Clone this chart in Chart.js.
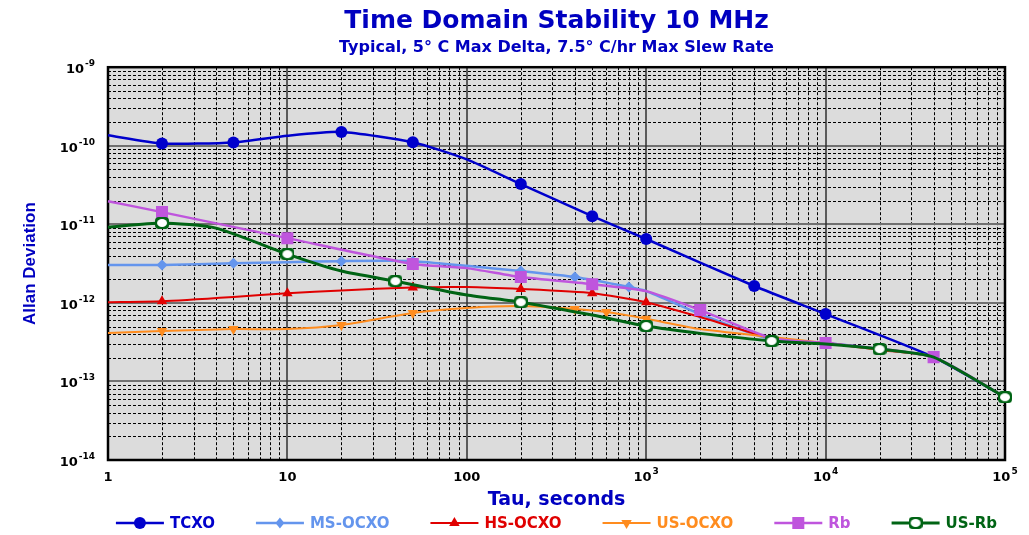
<!DOCTYPE html>
<html>
<head>
<meta charset="utf-8">
<title>Time Domain Stability 10 MHz</title>
<script src="https://cdn.jsdelivr.net/npm/chart.js@4.4.1/dist/chart.umd.min.js"></script>
<style>
  html, body { margin: 0; padding: 0; background: #fff; }
  #wrap { width: 1029px; height: 535px; }
</style>
</head>
<body>
<div id="wrap"><canvas id="stabilityChart" width="1029" height="535"></canvas></div>
<script>
// Allan deviation vs tau (seconds)
const tcxoTau = [1, 2, 5, 10, 20, 50, 100, 200, 500, 1000, 4000, 10000, 40000, 100000];
const tcxoVal = [1.36e-10, 1.07e-10, 1.10e-10, 1.34e-10, 1.50e-10, 1.11e-10, 6.7e-11, 3.25e-11, 1.27e-11, 6.5e-12, 1.64e-12, 7.2e-13, 2.04e-13, 6.3e-14];
const tcxoMarks = [2, 5, 20, 50, 200, 500, 1000, 4000, 10000];

const msTau = [1, 2, 5, 10, 20, 50, 100, 200, 400, 800, 1000, 2000, 5000, 10000, 20000, 40000, 100000];
const msVal = [3.03e-12, 3.03e-12, 3.2e-12, 3.3e-12, 3.4e-12, 3.4e-12, 2.96e-12, 2.54e-12, 2.13e-12, 1.59e-12, 1.41e-12, 7.2e-13, 3.4e-13, 3.08e-13, 2.58e-13, 2.04e-13, 6.3e-14];
const msMarks = [2, 5, 20, 50, 200, 400, 800, 2000];

const hsTau = [1, 2, 5, 10, 20, 50, 100, 200, 500, 1000, 2000, 5000, 10000, 20000, 40000, 100000];
const hsVal = [1.02e-12, 1.05e-12, 1.19e-12, 1.33e-12, 1.44e-12, 1.57e-12, 1.59e-12, 1.5e-12, 1.33e-12, 1.02e-12, 6.6e-13, 3.56e-13, 3.08e-13, 2.52e-13, 2.04e-13, 6.3e-14];
const hsMarks = [2, 10, 50, 200, 500, 1000, 10000];

const usTau = [1, 2, 5, 10, 20, 50, 100, 200, 400, 600, 1000, 2000, 5000, 10000, 20000, 40000, 100000];
const usVal = [4.13e-13, 4.38e-13, 4.64e-13, 4.64e-13, 5.22e-13, 7.42e-13, 8.6e-13, 9.1e-13, 8.34e-13, 7.63e-13, 6.28e-13, 4.64e-13, 3.67e-13, 3.08e-13, 2.55e-13, 2.04e-13, 6.3e-14];
const usMarks = [2, 5, 20, 50, 400, 600, 1000];

const rbTau = [1, 2, 10, 50, 100, 200, 500, 1000, 2000, 5000, 10000, 40000, 100000];
const rbVal = [1.97e-11, 1.43e-11, 6.67e-12, 3.12e-12, 2.77e-12, 2.13e-12, 1.73e-12, 1.41e-12, 8.1e-13, 3.56e-13, 3.08e-13, 2.04e-13, 6.3e-14];
const rbMarks = [2, 10, 50, 200, 500, 2000, 10000, 40000];

const usRbTau = [1, 2, 4, 10, 20, 40, 100, 200, 500, 1000, 2000, 5000, 10000, 20000, 40000, 100000];
const usRbVal = [9.2e-12, 1.04e-11, 8.95e-12, 4.18e-12, 2.54e-12, 1.89e-12, 1.26e-12, 1.02e-12, 7.0e-13, 5.07e-13, 4.09e-13, 3.27e-13, 2.99e-13, 2.58e-13, 2.04e-13, 6.3e-14];
const usRbMarks = [2, 10, 40, 200, 1000, 5000, 20000, 100000];

const xTicks = [1, 10, 100, 1e3, 1e4, 1e5];
const xTickLabels = ['1', '10', '100', '10^3', '10^4', '10^5'];
const yTicks = [1e-9, 1e-10, 1e-11, 1e-12, 1e-13, 1e-14];
const yTickLabels = ['10^-9', '10^-10', '10^-11', '10^-12', '10^-13', '10^-14'];

const FONT = "'DejaVu Sans', sans-serif";
const BLUE = '#0000c0';

// white ring marker used by US-Rb
function ringMarker(color) {
  const c = document.createElement('canvas');
  c.width = 14; c.height = 12;
  const g = c.getContext('2d');
  g.fillStyle = color;
  g.beginPath();
  g.roundRect(0, 0, 14, 12, 4);
  g.fill();
  g.fillStyle = '#fff';
  g.beginPath();
  g.ellipse(7, 6, 5, 4, 0, 0, Math.PI * 2);
  g.fill();
  return c;
}

const series = [
  { label: 'TCXO', tau: tcxoTau, vals: tcxoVal, marks: tcxoMarks, color: '#0000cc', style: 'circle', r: 6, width: 2.5 },
  { label: 'MS-OCXO', tau: msTau, vals: msVal, marks: msMarks, color: '#6495ed', style: 'rectRot', r: 5.5, width: 2.5 },
  { label: 'HS-OCXO', tau: hsTau, vals: hsVal, marks: hsMarks, color: '#e00000', style: 'triangle', r: 6, width: 2 },
  { label: 'US-OCXO', tau: usTau, vals: usVal, marks: usMarks, color: '#ff8c1e', style: 'triangle', rot: 180, r: 6, width: 2 },
  { label: 'Rb', tau: rbTau, vals: rbVal, marks: rbMarks, color: '#bf55dd', style: 'rect', r: 8.5, width: 2.5 },
  { label: 'US-Rb', tau: usRbTau, vals: usRbVal, marks: usRbMarks, color: '#006414', style: 'ring', r: 6, width: 3 }
];
series[5].img = ringMarker(series[5].color);

const datasets = series.map((s, i) => ({
  label: s.label,
  data: s.tau.map((t, k) => ({ x: t, y: s.vals[k] })),
  borderColor: s.color,
  backgroundColor: s.color,
  borderWidth: s.width,
  tension: 0.2,
  pointStyle: s.img || s.style,
  rotation: s.rot || 0,
  pointBorderWidth: 0,
  pointRadius: ctx => s.marks.includes(s.tau[ctx.dataIndex]) ? s.r : 0,
  order: series.length - i,
  clip: 12
}));

function drawSupLabel(ctx, text, x, y, align) {
  const [base, sup] = text.split('^');
  ctx.font = 'bold 13px ' + FONT;
  const wb = ctx.measureText(base).width;
  ctx.font = 'bold 9px ' + FONT;
  const ws = sup ? ctx.measureText(sup).width + 1 : 0;
  const left = align === 'right' ? x - wb - ws : x - (wb + ws) / 2;
  ctx.textAlign = 'left';
  ctx.textBaseline = 'alphabetic';
  ctx.font = 'bold 13px ' + FONT;
  ctx.fillText(base, left, y + 6);
  if (sup) {
    ctx.font = 'bold 9px ' + FONT;
    ctx.fillText(sup, left + wb + 1, y - 1);
  }
}

function drawMarker(ctx, s, x, y) {
  ctx.fillStyle = s.color;
  ctx.beginPath();
  if (s.img) {
    ctx.drawImage(s.img, x - s.img.width / 2, y - s.img.height / 2);
    return;
  } else if (s.style === 'circle') {
    ctx.arc(x, y, s.r, 0, Math.PI * 2);
  } else if (s.style === 'rectRot') {
    ctx.moveTo(x, y - s.r); ctx.lineTo(x + s.r * 0.8, y); ctx.lineTo(x, y + s.r); ctx.lineTo(x - s.r * 0.8, y);
  } else if (s.style === 'triangle') {
    const d = s.rot ? -1 : 1;
    ctx.moveTo(x, y - d * s.r); ctx.lineTo(x + s.r * 0.87, y + d * s.r * 0.5); ctx.lineTo(x - s.r * 0.87, y + d * s.r * 0.5);
  } else if (s.style === 'rect') {
    const h = s.r * Math.SQRT1_2;
    ctx.rect(x - h, y - h, h * 2, h * 2);
  }
  ctx.closePath();
  ctx.fill();
}

const logGrid = {
  id: 'logGrid',
  beforeDatasetsDraw(chart) {
    const { ctx, chartArea: a, scales: { x, y } } = chart;
    ctx.save();
    ctx.fillStyle = '#dcdcdc';
    ctx.fillRect(a.left, a.top, a.right - a.left, a.bottom - a.top);

    // minor lines, dashed
    ctx.strokeStyle = '#000';
    ctx.lineWidth = 1;
    ctx.setLineDash([3, 2]);
    ctx.beginPath();
    for (let e = 0; e < 5; e++) {
      for (let m = 2; m < 10; m++) {
        const px = Math.round(x.getPixelForValue(m * Math.pow(10, e))) + 0.5;
        ctx.moveTo(px, a.top); ctx.lineTo(px, a.bottom);
      }
    }
    for (let e = -14; e < -9; e++) {
      for (let m = 2; m < 10; m++) {
        const py = Math.round(y.getPixelForValue(m * Math.pow(10, e))) + 0.5;
        ctx.moveTo(a.left, py); ctx.lineTo(a.right, py);
      }
    }
    ctx.stroke();
    ctx.setLineDash([]);

    // decade lines
    ctx.strokeStyle = '#707070';
    ctx.lineWidth = 2;
    ctx.beginPath();
    yTicks.forEach(v => {
      const py = Math.round(y.getPixelForValue(v));
      ctx.moveTo(a.left, py); ctx.lineTo(a.right, py);
    });
    ctx.stroke();
    ctx.strokeStyle = '#303030';
    ctx.lineWidth = 1.5;
    ctx.beginPath();
    xTicks.forEach(v => {
      const px = Math.round(x.getPixelForValue(v));
      ctx.moveTo(px, a.top); ctx.lineTo(px, a.bottom);
    });
    ctx.stroke();

    ctx.strokeStyle = '#000';
    ctx.lineWidth = 2.5;
    ctx.strokeRect(a.left, a.top, a.right - a.left, a.bottom - a.top);
    ctx.restore();
  },
  afterDraw(chart) {
    const { ctx, chartArea: a, scales: { x, y } } = chart;
    ctx.save();
    ctx.fillStyle = '#000';
    yTicks.forEach((v, i) => drawSupLabel(ctx, yTickLabels[i], 95, y.getPixelForValue(v), 'right'));
    xTicks.forEach((v, i) => drawSupLabel(ctx, xTickLabels[i], x.getPixelForValue(v), 475, 'center'));

    // legend: line with marker, then coloured label
    const lineLen = 48, gap = 41, ly = 523;
    ctx.font = 'bold 15px ' + FONT;
    const widths = series.map(s => ctx.measureText(s.label).width);
    const total = widths.reduce((t, w) => t + lineLen + 6 + w, 0) + gap * (series.length - 1);
    let lx = (a.left + a.right) / 2 - total / 2;
    series.forEach((s, i) => {
      ctx.strokeStyle = s.color;
      ctx.lineWidth = s.width;
      ctx.beginPath();
      ctx.moveTo(lx, ly); ctx.lineTo(lx + lineLen, ly);
      ctx.stroke();
      drawMarker(ctx, s, lx + lineLen / 2, ly);
      ctx.fillStyle = s.color;
      ctx.font = 'bold 15px ' + FONT;
      ctx.textAlign = 'left';
      ctx.textBaseline = 'middle';
      ctx.fillText(s.label, lx + lineLen + 6, ly + 1);
      lx += lineLen + 6 + widths[i] + gap;
    });
    ctx.restore();
  }
};

new Chart(document.getElementById('stabilityChart'), {
  type: 'line',
  data: { datasets },
  options: {
    responsive: false,
    animation: false,
    layout: { padding: { left: 0, right: 24, top: 0, bottom: 20 } },
    scales: {
      x: {
        type: 'logarithmic',
        min: 1,
        max: 1e5,
        ticks: { display: false },
        grid: { display: false },
        border: { display: false },
        title: { display: true, text: 'Tau, seconds', color: BLUE, font: { family: FONT, size: 19, weight: 'bold' }, padding: { top: 0, bottom: 4 } },
        afterFit: scale => { scale.height = 55; }
      },
      y: {
        type: 'logarithmic',
        min: 1e-14,
        max: 1e-9,
        ticks: { display: false },
        grid: { display: false },
        border: { display: false },
        title: { display: true, text: 'Allan Deviation', color: BLUE, font: { family: "'Liberation Sans', Arial, sans-serif", size: 17, weight: 'bold' }, padding: { top: 20, bottom: 0 } },
        afterFit: scale => { scale.width = 108; }
      }
    },
    plugins: {
      legend: { display: false },
      tooltip: { enabled: false },
      title: {
        display: true,
        fullSize: false,
        text: 'Time Domain Stability 10 MHz',
        color: BLUE,
        font: { family: FONT, size: 25, weight: 'bold' },
        padding: { top: 6, bottom: 2 }
      },
      subtitle: {
        display: true,
        fullSize: false,
        text: 'Typical, 5° C Max Delta, 7.5° C/hr Max Slew Rate',
        color: BLUE,
        font: { family: FONT, size: 16, weight: 'bold' },
        padding: { top: 0, bottom: 10 }
      }
    }
  },
  plugins: [logGrid]
});
</script>
</body>
</html>
